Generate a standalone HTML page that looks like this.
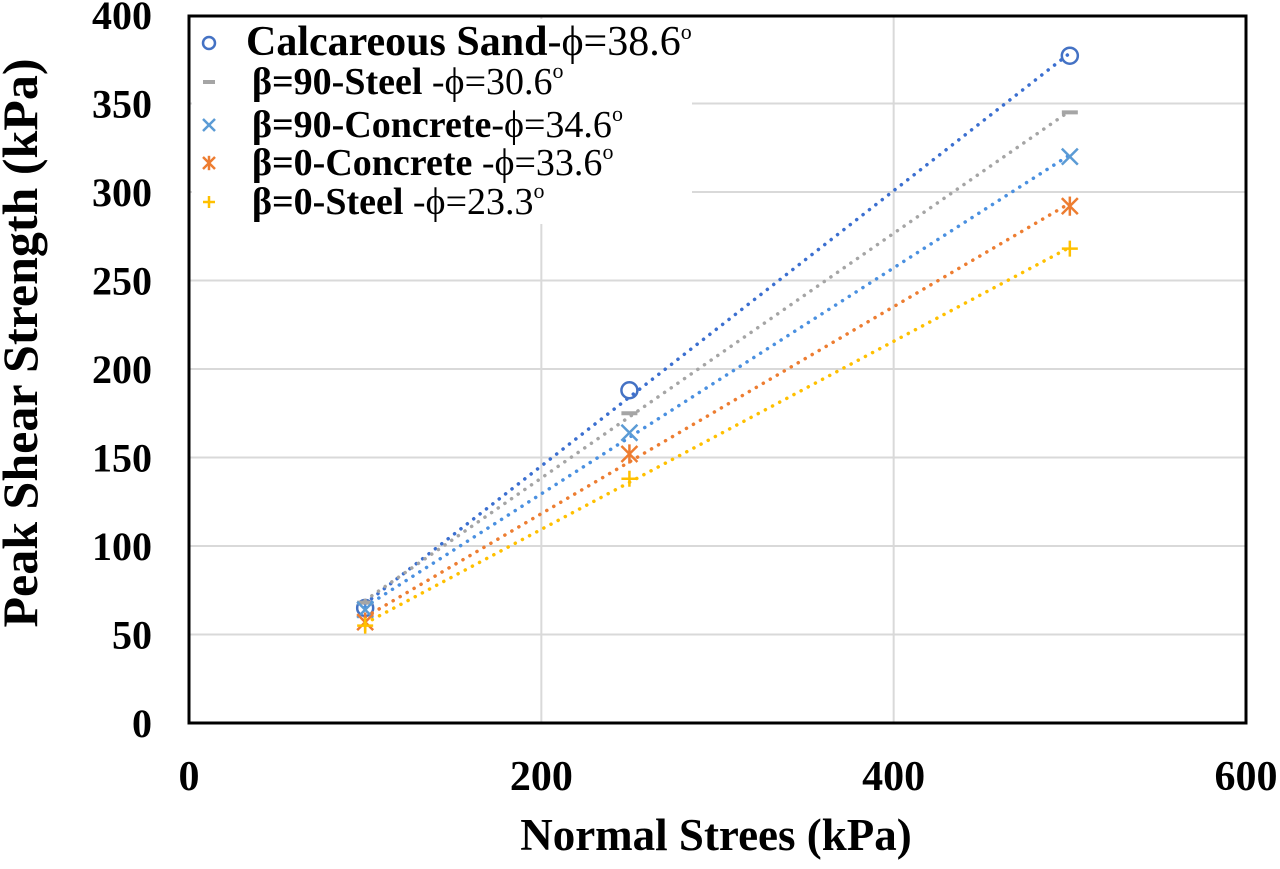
<!DOCTYPE html>
<html><head><meta charset="utf-8"><style>
body{margin:0;background:#fff;}
svg text{font-family:"Liberation Serif",serif;font-weight:bold;fill:#000;}
</style></head><body>
<svg id="chart" width="1280" height="864" xmlns="http://www.w3.org/2000/svg">
<g id="grid"></g><g id="ticks"></g><g id="series"></g>
<rect x="189" y="16" width="1057" height="707" fill="none" stroke="#000" stroke-width="3"/>
<text x="716" y="850" font-size="45" text-anchor="middle">Normal Strees (kPa)</text>
<text transform="translate(37,343) rotate(-90)" font-size="50" text-anchor="middle">Peak Shear Strength (kPa)</text>
<g id="legend">
<rect x="192" y="19" width="500" height="205" fill="#fff"/>
</g>
</svg>
<script>
const xVals=[100,250,500];
const seriesNames=['Calcareous Sand','β=90-Steel ','β=90-Concrete','β=0-Concrete ','β=0-Steel '];
const seriesPhi=['38.6','30.6','34.6','33.6','23.3'];
const calcSand=[65,188,377];
const steel90=[68,175,345];
const concrete90=[64,164,320];
const concrete0=[57,152,292];
const steel0=[55,138,268];
const yTicks=[0,50,100,150,200,250,300,350,400];
const xTicks=[0,200,400,600];
const allSeries=[calcSand,steel90,concrete90,concrete0,steel0];
const colors=['#4472c4','#a5a5a5','#5b9bd5','#ed7d31','#ffc000'];
const lineColors=['#3b6fd0','#a5a5a5','#4a90e0','#ed7d31','#ffc000'];
const NS='http://www.w3.org/2000/svg';
const X=v=>189+v*1057/600, Y=v=>723-v*1.77;
function mk(tag,attrs,parent){const e=document.createElementNS(NS,tag);for(const k in attrs)e.setAttribute(k,attrs[k]);parent.appendChild(e);return e;}
const grid=document.getElementById('grid'),ticks=document.getElementById('ticks'),ser=document.getElementById('series'),leg=document.getElementById('legend');
yTicks.forEach(t=>{
 if(t>0&&t<400){const l=mk('line',{x1:189,x2:1246,y1:Y(t),y2:Y(t),stroke:'#d9d9d9','stroke-width':2},grid);
 
 }
 const tx=mk('text',{x:152,y:Y(t)+14,'font-size':40,'text-anchor':'end'},ticks);tx.textContent=t;
 
 
});
xTicks.forEach(t=>{
 if(t>0&&t<600){const l=mk('line',{x1:X(t),x2:X(t),y1:16,y2:723,stroke:'#d9d9d9','stroke-width':2},grid);
 
 }
 const tx=mk('text',{x:X(t),y:790,'font-size':42,'text-anchor':'middle'},ticks);tx.textContent=t;
 
 
});
function marker(i,cx,cy,parent,s){
 const c=colors[i];const g=mk('g',{stroke:c,'stroke-width':2.5,fill:'none'},parent);
 if(i==0)mk('circle',{cx,cy,r:s},g);
 else if(i==1)mk('line',{x1:cx-s,x2:cx+s,y1:cy,y2:cy,'stroke-width':4},g);
 else if(i==2){mk('line',{x1:cx-s,y1:cy-s,x2:cx+s,y2:cy+s},g);mk('line',{x1:cx-s,y1:cy+s,x2:cx+s,y2:cy-s},g);}
 else if(i==3){mk('line',{x1:cx-s,y1:cy-s,x2:cx+s,y2:cy+s},g);mk('line',{x1:cx-s,y1:cy+s,x2:cx+s,y2:cy-s},g);mk('line',{x1:cx,y1:cy-s*1.2,x2:cx,y2:cy+s*1.2},g);}
 else {mk('line',{x1:cx-s,x2:cx+s,y1:cy,y2:cy},g);mk('line',{x1:cx,x2:cx,y1:cy-s,y2:cy+s},g);}
 return g;
}
allSeries.forEach((vals,i)=>{
 const n=xVals.length;let sx=0,sy=0,sxx=0,sxy=0;
 xVals.forEach((x,j)=>{sx+=x;sy+=vals[j];sxx+=x*x;sxy+=x*vals[j];});
 const m=(n*sxy-sx*sy)/(n*sxx-sx*sx),b=(sy-m*sx)/n;
 const x0=xVals[0],x1=xVals[n-1];
 const tl=mk('line',{x1:X(x0),y1:Y(m*x0+b),x2:X(x1),y2:Y(m*x1+b),stroke:lineColors[i],'stroke-width':3.5,'stroke-dasharray':'0.1 8','stroke-linecap':'round'},ser);
 
 
 vals.forEach((v,j)=>{const g=marker(i,X(xVals[j]),Y(v),ser,8);
  
  });
 const ly=[55,94,137,175,214][i];
 const lm=marker(i,209,ly-12,leg,6);
 
 
 const t=mk('text',{x:i==0?246:252,y:ly,'font-size':i==0?42:38},leg);
 
 
 t.innerHTML=seriesNames[i]+'<tspan font-weight="normal">-ϕ='+seriesPhi[i]+'</tspan><tspan font-weight="normal" font-size="22" dy="-16">o</tspan>';
});
</script>
</body></html>
